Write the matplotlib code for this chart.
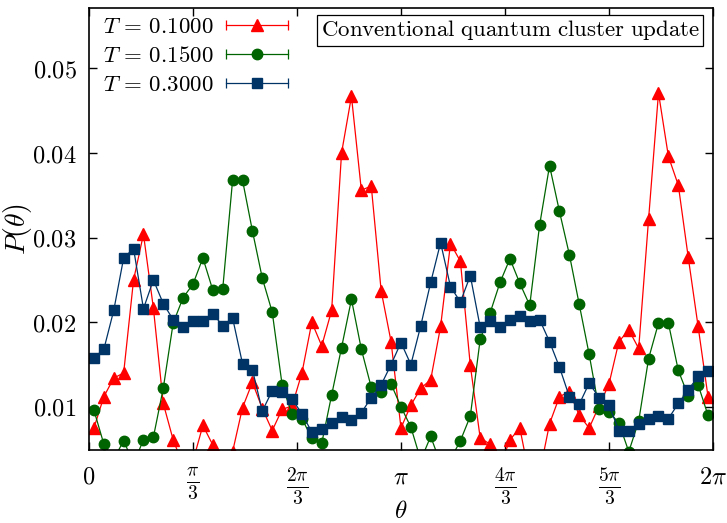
import numpy as np
import matplotlib
matplotlib.use("Agg")
import matplotlib.pyplot as plt
from matplotlib.lines import Line2D
from matplotlib.legend_handler import HandlerBase

plt.rcParams['mathtext.fontset'] = 'cm'
plt.rcParams['font.family'] = 'serif'
plt.rcParams['font.serif'] = ['DejaVu Serif']

# P(theta) histograms, 63 bins over [0, 2pi)
p_t010 = [0.0075, 0.0112, 0.0134, 0.0140, 0.0250, 0.0304, 0.0217, 0.0104, 0.0061, 0.0031,
          0.0036, 0.0078, 0.0055, 0.0037, 0.0047, 0.0099, 0.0129, 0.0098, 0.0072, 0.0097,
          0.0101, 0.0140, 0.0200, 0.0172, 0.0214, 0.0400, 0.0467, 0.0356, 0.0361, 0.0237,
          0.0177, 0.0075, 0.0102, 0.0122, 0.0132, 0.0195, 0.0293, 0.0272, 0.0149, 0.0063,
          0.0056, 0.0030, 0.0061, 0.0075, 0.0016, 0.0022, 0.0080, 0.0112, 0.0118, 0.0090,
          0.0075, 0.0101, 0.0127, 0.0177, 0.0191, 0.0169, 0.0322, 0.0471, 0.0396, 0.0362,
          0.0277, 0.0195, 0.0112]
p_t015 = [0.0096, 0.0056, 0.0038, 0.0060, 0.0033, 0.0061, 0.0064, 0.0122, 0.0199, 0.0229,
          0.0245, 0.0276, 0.0238, 0.0239, 0.0368, 0.0368, 0.0308, 0.0252, 0.0212, 0.0126,
          0.0091, 0.0086, 0.0063, 0.0057, 0.0114, 0.0170, 0.0227, 0.0168, 0.0123, 0.0118,
          0.0127, 0.0100, 0.0076, 0.0037, 0.0065, 0.0033, 0.0038, 0.0060, 0.0089, 0.0180,
          0.0211, 0.0247, 0.0275, 0.0246, 0.0220, 0.0315, 0.0385, 0.0331, 0.0280, 0.0221,
          0.0162, 0.0097, 0.0094, 0.0081, 0.0047, 0.0083, 0.0157, 0.0199, 0.0199, 0.0143,
          0.0113, 0.0126, 0.0090]
p_t030 = [0.0158, 0.0168, 0.0214, 0.0276, 0.0287, 0.0216, 0.0250, 0.0222, 0.0203, 0.0194,
          0.0201, 0.0202, 0.0210, 0.0196, 0.0205, 0.0151, 0.0144, 0.0095, 0.0119, 0.0118,
          0.0109, 0.0092, 0.0070, 0.0074, 0.0081, 0.0088, 0.0084, 0.0093, 0.0111, 0.0126,
          0.0150, 0.0176, 0.0150, 0.0196, 0.0247, 0.0294, 0.0242, 0.0224, 0.0255, 0.0194,
          0.0202, 0.0194, 0.0203, 0.0207, 0.0201, 0.0203, 0.0177, 0.0147, 0.0112, 0.0103,
          0.0128, 0.0111, 0.0102, 0.0072, 0.0072, 0.0080, 0.0086, 0.0089, 0.0086, 0.0104,
          0.0120, 0.0136, 0.0142]

labels = [r'$T\,=\,0.1000$', r'$T\,=\,0.1500$', r'$T\,=\,0.3000$']
colors = ['#ff0000', '#006400', '#003366']
markers = ['^', 'o', 's']
msizes = [8.5, 7.5, 7.5]

xtick_vals = [0, np.pi/3, 2*np.pi/3, np.pi, 4*np.pi/3, 5*np.pi/3, 2*np.pi]
xtick_labels = [r'$0$', r'$\frac{\pi}{3}$', r'$\frac{2\pi}{3}$', r'$\pi$',
                r'$\frac{4\pi}{3}$', r'$\frac{5\pi}{3}$', r'$2\pi$']
ytick_vals = [0.01, 0.02, 0.03, 0.04, 0.05]
ytick_labels = [r'$0.01$', r'$0.02$', r'$0.03$', r'$0.04$', r'$0.05$']

nbins = len(p_t010)
theta = (np.arange(nbins) + 0.5) * 2 * np.pi / nbins


class ErrKeyHandler(HandlerBase):
    """gnuplot-like key: horizontal line with end caps and a marker in the middle."""
    def create_artists(self, legend, orig, xdescent, ydescent, width, height, fontsize, trans):
        x0, x1 = -xdescent, -xdescent + width
        y = height / 2 - ydescent
        c = orig.get_color()
        line = Line2D([x0, x1], [y, y], color=c, lw=0.9, transform=trans)
        caps = Line2D([x0, x1], [y, y], ls='none', marker='|', ms=7, mew=0.9,
                      color=c, transform=trans)
        mark = Line2D([(x0 + x1) / 2], [y], ls='none', marker=orig.get_marker(),
                      ms=orig.get_markersize(), color=c, transform=trans)
        return [line, caps, mark]


fig = plt.figure(figsize=(7.27, 5.23), dpi=100)
ax = fig.add_axes([0.1224, 0.1396, 0.8583, 0.8445])

for vals, lab, col, mk, ms in zip([p_t010, p_t015, p_t030], labels, colors, markers, msizes):
    ax.plot(theta, vals, color=col, lw=0.9, marker=mk, ms=ms, mec=col, mfc=col, label=lab)

ax.set_xlim(0, 2 * np.pi)
ax.set_ylim(0.0049, 0.0571)
ax.set_xticks(xtick_vals)
ax.set_xticklabels(xtick_labels, fontsize=17.5)
for t in ax.get_xticklabels():
    if 'frac' in t.get_text():
        t.set_fontsize(20)
ax.set_yticks(ytick_vals)
ax.set_yticklabels(ytick_labels, fontsize=17.5)
ax.tick_params(direction='in', length=5.5, width=1, top=True, right=True)
ax.tick_params(axis='x', pad=11)
ax.tick_params(axis='y', pad=9)
for s in ax.spines.values():
    s.set_linewidth(1.2)

ax.set_xlabel(r'$\theta$', fontsize=18)
ax.xaxis.set_label_coords(0.5, -0.113)
ax.set_ylabel(r'$P(\theta)$', fontsize=20)
ax.yaxis.set_label_coords(-0.088, 0.5)

ax.legend(loc='upper left', bbox_to_anchor=(0.022, 0.983), frameon=False, markerfirst=False,
          fontsize=16.5, handlelength=2.7, handletextpad=0.55, labelspacing=0.3,
          borderpad=0, borderaxespad=0, handler_map={Line2D: ErrKeyHandler()})

ax.text(0.979, 0.977, r'$\mathrm{Conventional\ quantum\ cluster\ update}$',
        transform=ax.transAxes, ha='right', va='top', fontsize=16.5,
        bbox=dict(boxstyle='square,pad=0.15', fc='white', ec='black', lw=0.9))

fig.savefig('out.png', dpi=100)
